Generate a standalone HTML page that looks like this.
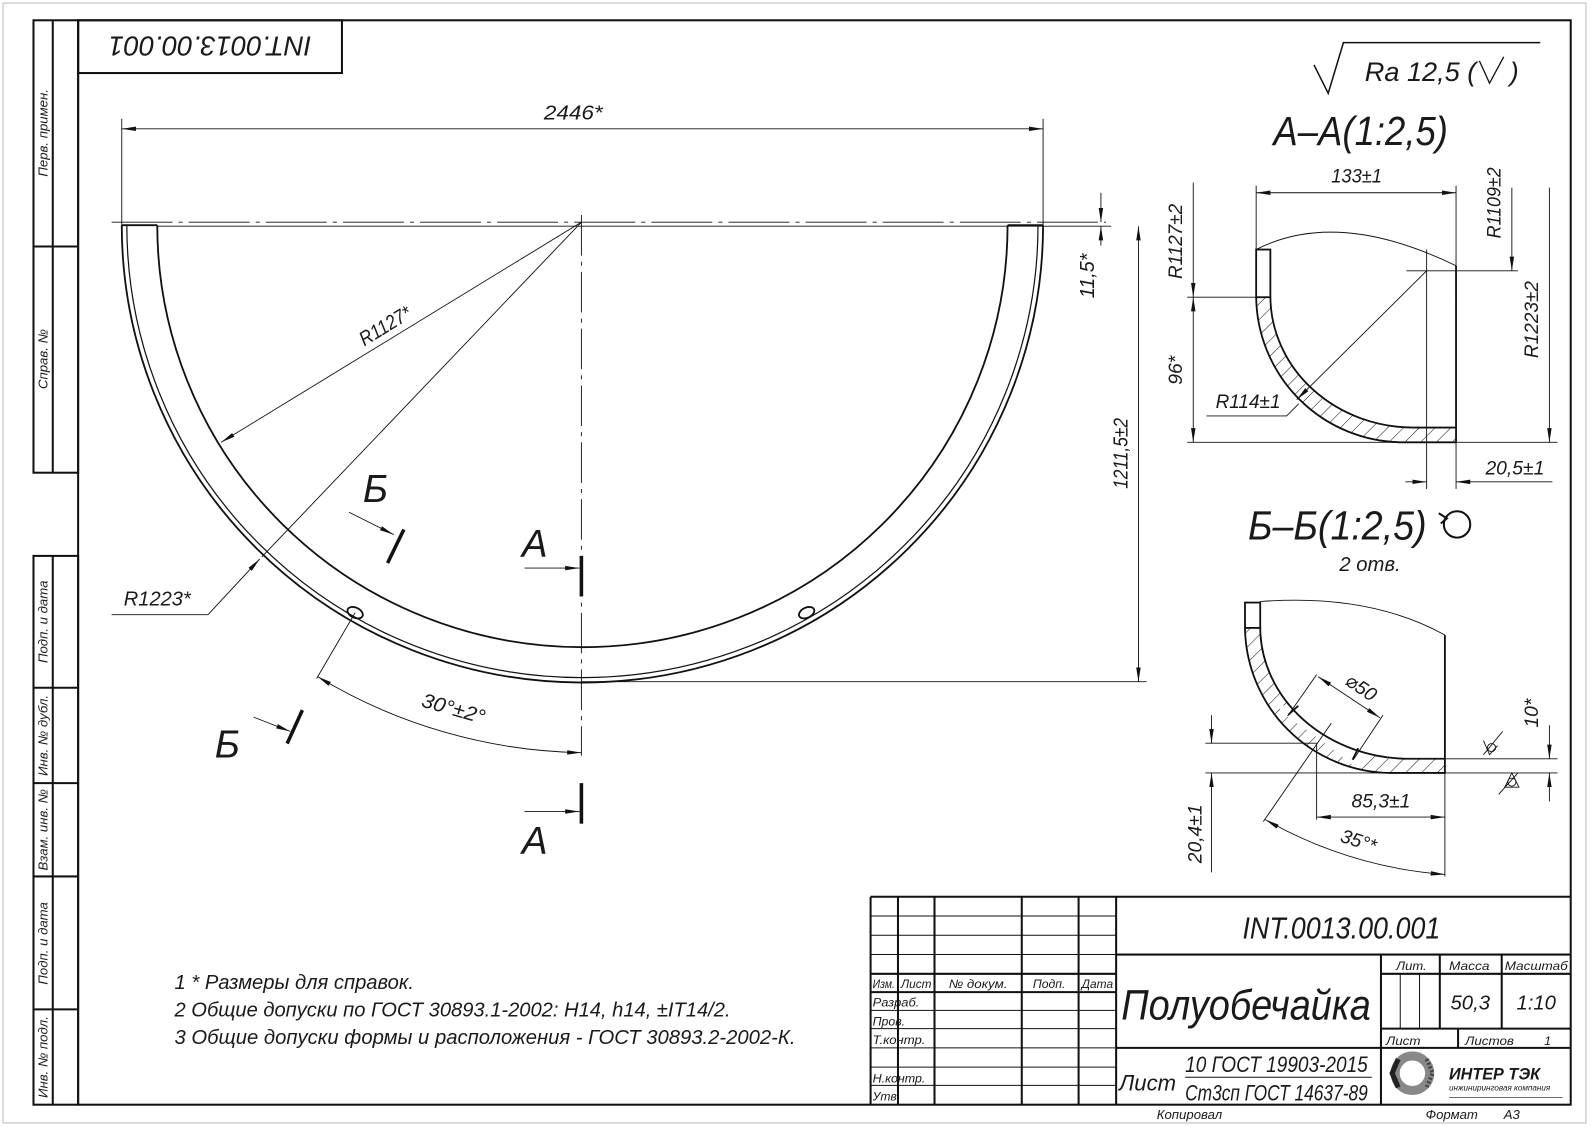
<!DOCTYPE html>
<html><head><meta charset="utf-8"><style>
html,body{margin:0;padding:0;background:#fff;}
svg{display:block;}
text{font-family:"Liberation Sans","DejaVu Sans",sans-serif;font-style:italic;fill:#1a1a1a;}
</style></head><body>
<svg width="1591" height="1127" viewBox="0 0 1568 1111" preserveAspectRatio="none" xmlns="http://www.w3.org/2000/svg">
<defs>
<marker id="a" viewBox="0 0 14 6" refX="14" refY="3" markerWidth="14" markerHeight="6" markerUnits="userSpaceOnUse" orient="auto-start-reverse"><path d="M0,0.8 L14,3 L0,5.2 Z" fill="#111"/></marker>
<pattern id="h" width="11" height="11" patternUnits="userSpaceOnUse" patternTransform="rotate(45)"><line x1="0" y1="0" x2="0" y2="11" stroke="#111" stroke-width="1"/></pattern>
</defs>
<rect width="1568" height="1111" fill="#fff"/>
<rect x="3" y="3" width="1560" height="1104" fill="none" stroke="#bbb" stroke-width="1"/>
<g stroke="#111" fill="none" stroke-width="2">
<rect x="77" y="20" width="1471" height="1069"/>
<rect x="33" y="20" width="44" height="446"/>
<line x1="52" y1="20" x2="52" y2="466"/><line x1="33" y1="243" x2="77" y2="243"/>
<rect x="33" y="548" width="44" height="541"/>
<line x1="52" y1="548" x2="52" y2="1089"/>
<line x1="33" y1="678" x2="77" y2="678"/><line x1="33" y1="772" x2="77" y2="772"/>
<line x1="33" y1="864" x2="77" y2="864"/><line x1="33" y1="995" x2="77" y2="995"/>
<rect x="77" y="20" width="260" height="52"/>
</g>
<g font-size="13">
<text transform="translate(47,131) rotate(-90)" text-anchor="middle">Перв. примен.</text>
<text transform="translate(47,354) rotate(-90)" text-anchor="middle">Справ. №</text>
<text transform="translate(47,613) rotate(-90)" text-anchor="middle">Подп. и дата</text>
<text transform="translate(47,725) rotate(-90)" text-anchor="middle">Инв. № дубл.</text>
<text transform="translate(47,818) rotate(-90)" text-anchor="middle">Взам. инв. №</text>
<text transform="translate(47,930) rotate(-90)" text-anchor="middle">Подп. и дата</text>
<text transform="translate(47,1042) rotate(-90)" text-anchor="middle">Инв. № подл.</text>
</g>
<text transform="translate(207,36) rotate(180)" text-anchor="middle" font-size="27" textLength="200" lengthAdjust="spacingAndGlyphs">INT.0013.00.001</text>

<g stroke="#111" fill="none" stroke-width="0.9">
<line x1="110" y1="219" x2="1090" y2="219" stroke-dasharray="60,6,4,6"/>
<line x1="573" y1="212" x2="573" y2="745" stroke-dasharray="40,6,4,6"/>
<line x1="155" y1="223" x2="1095" y2="223"/>
<line x1="120" y1="117" x2="120" y2="222"/><line x1="1028" y1="117" x2="1028" y2="222"/>
<line x1="120" y1="127" x2="1028" y2="127" marker-start="url(#a)" marker-end="url(#a)"/>
<line x1="573" y1="219" x2="218" y2="436" marker-end="url(#a)"/>
<line x1="573" y1="219" x2="258" y2="549"/>
<line x1="110" y1="606" x2="205" y2="606"/><line x1="205" y1="606" x2="256" y2="551" marker-end="url(#a)"/>
<line x1="573" y1="672" x2="1130" y2="672"/>
<line x1="1122" y1="223" x2="1122" y2="672" marker-start="url(#a)" marker-end="url(#a)"/>
<line x1="1085" y1="190" x2="1085" y2="219" marker-end="url(#a)"/>
<line x1="1085" y1="242" x2="1085" y2="223" marker-end="url(#a)"/>
<line x1="350" y1="604" x2="312" y2="669"/>
<path d="M313,667 A520,520 0 0 0 573,742" marker-start="url(#a)" marker-end="url(#a)"/>
<line x1="344" y1="505" x2="388" y2="527" marker-end="url(#a)"/>
<line x1="250" y1="707" x2="286" y2="721" marker-end="url(#a)"/>
<line x1="517" y1="560" x2="571" y2="560" marker-end="url(#a)"/>
<line x1="517" y1="800" x2="571" y2="800" marker-end="url(#a)"/>
</g>
<g stroke="#111" fill="none" stroke-width="1.8">
<path d="M120,222 L155,222"/><path d="M993,222 L1028,222"/>
<path d="M120,222 A453,450 0 0 0 1028,222"/>
<path d="M125,222 A448,445 0 0 0 1023,222" stroke-width="1.2"/>
<path d="M155,222 A419,416 0 0 0 993,222"/>
<ellipse cx="350" cy="604" rx="8" ry="5" transform="rotate(25 350 604)"/>
<ellipse cx="795" cy="604" rx="8" ry="5" transform="rotate(-25 795 604)"/>
</g>
<g stroke="#111" stroke-width="3.5">
<line x1="398" y1="522" x2="382" y2="555"/><line x1="298" y1="700" x2="283" y2="733"/>
<line x1="573" y1="548" x2="573" y2="588"/><line x1="573" y1="772" x2="573" y2="812"/>
</g>
<g font-size="20">
<text x="565" y="118" text-anchor="middle" textLength="58" lengthAdjust="spacingAndGlyphs">2446*</text>
<text transform="translate(383,327) rotate(-31.4)" text-anchor="middle" textLength="56" lengthAdjust="spacingAndGlyphs">R1127*</text>
<text x="155" y="597" text-anchor="middle" textLength="66" lengthAdjust="spacingAndGlyphs">R1223*</text>
<text transform="translate(445,705) rotate(16)" text-anchor="middle" textLength="64" lengthAdjust="spacingAndGlyphs">30°±2°</text>
<text transform="translate(1111,447) rotate(-90)" text-anchor="middle" textLength="70" lengthAdjust="spacingAndGlyphs">1211,5±2</text>
<text transform="translate(1078,272) rotate(-90)" text-anchor="middle" textLength="44" lengthAdjust="spacingAndGlyphs">11,5*</text>
</g>
<g font-size="38">
<text x="370" y="495" text-anchor="middle">Б</text>
<text x="224" y="747" text-anchor="middle">Б</text>
<text x="527" y="549" text-anchor="middle">A</text>
<text x="527" y="842" text-anchor="middle">A</text>
</g>

<path d="M1295,64 L1309,92 L1324,42 L1518,42" stroke="#111" fill="none" stroke-width="1.5"/>
<text x="1345" y="80" font-size="26" textLength="110" lengthAdjust="spacingAndGlyphs">Ra  12,5 (</text>
<path d="M1458,60 L1468,82 L1482,56" stroke="#111" fill="none" stroke-width="1.3"/>
<text x="1488" y="80" font-size="26">)</text>
<text x="1255" y="143" font-size="40" textLength="172" lengthAdjust="spacingAndGlyphs">A–A(1:2,5)</text>
<text x="1230" y="532" font-size="40" textLength="176" lengthAdjust="spacingAndGlyphs">Б–Б(1:2,5)</text>
<circle cx="1436" cy="517" r="13" fill="none" stroke="#111" stroke-width="2"/>
<path d="M1418,506 L1426,511 L1420,516" fill="none" stroke="#111" stroke-width="2"/>
<text x="1320" y="563" font-size="20">2 отв.</text>

<path d="M1238,293 A145,145 0 0 0 1383,436 L1435,436 L1435,421.5 L1393,421.5 A141,130 0 0 1 1252,293 Z" fill="url(#h)" stroke="none"/>
<g stroke="#111" fill="none" stroke-width="0.9">
<path d="M1238,246 Q1318,205 1435,262"/>
<line x1="1238" y1="183" x2="1238" y2="246"/><line x1="1435" y1="183" x2="1435" y2="262"/>
<line x1="1238" y1="190" x2="1435" y2="190" marker-start="url(#a)" marker-end="url(#a)"/>
<line x1="1406" y1="246" x2="1406" y2="482"/>
<line x1="1386" y1="267" x2="1496" y2="267"/>
<line x1="1490" y1="185" x2="1490" y2="267" marker-end="url(#a)"/>
<line x1="1406" y1="267" x2="1278" y2="394" marker-end="url(#a)"/>
<path d="M1189,410 L1268,410 L1280,398"/>
<line x1="1170" y1="293" x2="1238" y2="293"/>
<line x1="1176" y1="180" x2="1176" y2="293" marker-end="url(#a)"/>
<line x1="1176" y1="293" x2="1176" y2="436" marker-start="url(#a)" marker-end="url(#a)"/>
<line x1="1170" y1="436" x2="1535" y2="436"/>
<line x1="1527" y1="185" x2="1527" y2="436" marker-end="url(#a)"/>
<line x1="1435" y1="436" x2="1435" y2="482"/>
<line x1="1385" y1="475" x2="1406" y2="475" marker-end="url(#a)"/>
<line x1="1530" y1="475" x2="1435" y2="475" marker-end="url(#a)"/>
</g>
<g stroke="#111" fill="none" stroke-width="1.8">
<rect x="1238" y="246" width="14" height="47"/>
<path d="M1238,293 A145,145 0 0 0 1383,436 L1435,436 L1435,262"/>
<path d="M1252,293 A141,130 0 0 0 1393,421.5 L1435,421.5"/>
</g>
<g font-size="19">
<text x="1337" y="180" text-anchor="middle" textLength="50" lengthAdjust="spacingAndGlyphs">133±1</text>
<text transform="translate(1479,200) rotate(-90)" text-anchor="middle" textLength="70" lengthAdjust="spacingAndGlyphs">R1109±2</text>
<text transform="translate(1165,238) rotate(-90)" text-anchor="middle" textLength="74" lengthAdjust="spacingAndGlyphs">R1127±2</text>
<text transform="translate(1165,365) rotate(-90)" text-anchor="middle">96*</text>
<text transform="translate(1516,315) rotate(-90)" text-anchor="middle" textLength="76" lengthAdjust="spacingAndGlyphs">R1223±2</text>
<text x="1230" y="402" text-anchor="middle" textLength="64" lengthAdjust="spacingAndGlyphs">R114±1</text>
<text x="1493" y="468" text-anchor="middle" textLength="58" lengthAdjust="spacingAndGlyphs">20,5±1</text>
</g>

<path d="M1227,619 A145,145 0 0 0 1370,762 L1424,762 L1424,748 L1388,748 A147,130 0 0 1 1242,619 Z" fill="url(#h)" stroke="none"/>
<path d="M1268,706 L1280,695 L1339,737 L1333,750 Z" fill="#fff" stroke="none"/>
<path d="M1260,698 L1276,690 L1348,740 L1336,756 Z" fill="#fff" stroke="none"/>
<g stroke="#111" fill="none" stroke-width="0.9">
<path d="M1242,593 Q1350,585 1424,626"/>
<line x1="1297.6" y1="665" x2="1269" y2="706"/>
<line x1="1363" y1="705" x2="1333.7" y2="749"/>
<line x1="1299" y1="667" x2="1360" y2="707.6" marker-start="url(#a)" marker-end="url(#a)"/>
<line x1="1312" y1="713" x2="1245" y2="810"/>
<line x1="1188" y1="732.6" x2="1297.6" y2="732.6"/>
<line x1="1188" y1="762" x2="1535" y2="762"/>
<line x1="1424" y1="748" x2="1535" y2="748"/>
<line x1="1194" y1="705" x2="1194" y2="732.6" marker-end="url(#a)"/>
<line x1="1194" y1="860" x2="1194" y2="762" marker-end="url(#a)"/>
<line x1="1297.6" y1="732.6" x2="1297.6" y2="808"/>
<line x1="1424" y1="762" x2="1424" y2="864"/>
<line x1="1297.6" y1="805.5" x2="1424" y2="805.5" marker-start="url(#a)" marker-end="url(#a)"/>
<path d="M1247,808 Q1330,855 1424,862" marker-start="url(#a)" marker-end="url(#a)"/>
<line x1="1527" y1="715" x2="1527" y2="748" marker-end="url(#a)"/>
<line x1="1527" y1="790" x2="1527" y2="762" marker-end="url(#a)"/>
<line x1="1481" y1="721" x2="1462" y2="744"/>
<path d="M1462,730 L1468,744 L1476,735"/><circle cx="1470" cy="737" r="4"/>
<line x1="1477" y1="783" x2="1496" y2="762"/>
<path d="M1483,776 L1490,762 L1497,776 Z"/><circle cx="1490" cy="771" r="4"/>
</g>
<g stroke="#111" fill="none" stroke-width="1.8">
<rect x="1227" y="594" width="15" height="25"/>
<path d="M1227,619 A145,145 0 0 0 1370,762 L1424,762 L1424,626"/>
<path d="M1242,619 A147,130 0 0 0 1388,748 L1424,748"/>
<line x1="1269.7" y1="704.6" x2="1279.5" y2="695.8"/>
<line x1="1333" y1="749" x2="1338.6" y2="737.5"/>
</g>
<g font-size="19">
<text transform="translate(1338,683) rotate(34)" text-anchor="middle">⌀50</text>
<text x="1361" y="796" text-anchor="middle" textLength="58" lengthAdjust="spacingAndGlyphs">85,3±1</text>
<text transform="translate(1184,822) rotate(-90)" text-anchor="middle" textLength="58" lengthAdjust="spacingAndGlyphs">20,4±1</text>
<text transform="translate(1337,835) rotate(18)" text-anchor="middle">35°*</text>
<text transform="translate(1516,703) rotate(-90)" text-anchor="middle">10*</text>
</g>

<g font-size="20" fill="#222">
<text x="172" y="975" textLength="236" lengthAdjust="spacingAndGlyphs">1  * Размеры для справок.</text>
<text x="172" y="1002" textLength="548" lengthAdjust="spacingAndGlyphs">2 Общие допуски по ГОСТ 30893.1-2002: H14, h14, ±IT14/2.</text>
<text x="172" y="1029" textLength="612" lengthAdjust="spacingAndGlyphs">3 Общие допуски формы и расположения - ГОСТ 30893.2-2002-К.</text>
</g>

<g stroke="#111" fill="none" stroke-width="1">
<line x1="858" y1="903" x2="1100" y2="903"/><line x1="858" y1="922" x2="1100" y2="922"/>
<line x1="858" y1="941" x2="1100" y2="941"/>
<line x1="858" y1="996" x2="1100" y2="996"/><line x1="858" y1="1014" x2="1100" y2="1014"/>
<line x1="858" y1="1033" x2="1100" y2="1033"/><line x1="858" y1="1052" x2="1100" y2="1052"/>
<line x1="858" y1="1070" x2="1100" y2="1070"/>
<line x1="1380" y1="960" x2="1380" y2="1014"/><line x1="1399" y1="960" x2="1399" y2="1014"/>
</g>
<g stroke="#111" fill="none" stroke-width="2">
<line x1="858" y1="884" x2="1548" y2="884"/>
<line x1="858" y1="884" x2="858" y2="1089"/>
<line x1="885" y1="884" x2="885" y2="1089"/><line x1="921" y1="884" x2="921" y2="1089"/>
<line x1="1007" y1="884" x2="1007" y2="1089"/><line x1="1063" y1="884" x2="1063" y2="1089"/>
<line x1="1100" y1="884" x2="1100" y2="1089"/>
<line x1="858" y1="960" x2="1100" y2="960"/><line x1="858" y1="978" x2="1100" y2="978"/>
<line x1="1100" y1="941" x2="1548" y2="941"/>
<line x1="1361" y1="941" x2="1361" y2="1089"/>
<line x1="1100" y1="1033" x2="1548" y2="1033"/>
<line x1="1361" y1="960" x2="1548" y2="960"/><line x1="1361" y1="1014" x2="1548" y2="1014"/>
<line x1="1419" y1="941" x2="1419" y2="1014"/><line x1="1480" y1="941" x2="1480" y2="1014"/>
<line x1="1437" y1="1014" x2="1437" y2="1033"/>
</g>
<line x1="1168" y1="1062" x2="1352" y2="1062" stroke="#111" stroke-width="1"/>
<g font-size="12">
<text x="860" y="974" textLength="22" lengthAdjust="spacingAndGlyphs">Изм.</text><text x="888" y="974" textLength="30" lengthAdjust="spacingAndGlyphs">Лист</text>
<text x="935" y="974" textLength="58" lengthAdjust="spacingAndGlyphs">№ докум.</text><text x="1018" y="974" textLength="32" lengthAdjust="spacingAndGlyphs">Подп.</text><text x="1066" y="974" textLength="31" lengthAdjust="spacingAndGlyphs">Дата</text>
<text x="860" y="992" textLength="46" lengthAdjust="spacingAndGlyphs">Разраб.</text><text x="860" y="1011" textLength="32" lengthAdjust="spacingAndGlyphs">Пров.</text><text x="860" y="1029" textLength="52" lengthAdjust="spacingAndGlyphs">Т.контр.</text>
<text x="860" y="1067" textLength="52" lengthAdjust="spacingAndGlyphs">Н.контр.</text><text x="860" y="1085" textLength="27" lengthAdjust="spacingAndGlyphs">Утв.</text>
<text x="1376" y="956" textLength="30" lengthAdjust="spacingAndGlyphs">Лит.</text><text x="1428" y="956" textLength="40" lengthAdjust="spacingAndGlyphs">Масса</text><text x="1483" y="956" textLength="62" lengthAdjust="spacingAndGlyphs">Масштаб</text>
<text x="1366" y="1030" textLength="34" lengthAdjust="spacingAndGlyphs">Лист</text><text x="1444" y="1030" textLength="48" lengthAdjust="spacingAndGlyphs">Листов</text><text x="1522" y="1030">1</text>
</g>
<text x="1322" y="925" font-size="30" text-anchor="middle" textLength="195" lengthAdjust="spacingAndGlyphs">INT.0013.00.001</text>
<text x="1105" y="1005" font-size="42" textLength="246" lengthAdjust="spacingAndGlyphs">Полуобечайка</text>
<text x="1449" y="995" font-size="20" text-anchor="middle">50,3</text>
<text x="1514" y="995" font-size="20" text-anchor="middle">1:10</text>
<text x="1103" y="1075" font-size="22" textLength="56" lengthAdjust="spacingAndGlyphs">Лист</text>
<text x="1348" y="1057" font-size="22" text-anchor="end" textLength="180" lengthAdjust="spacingAndGlyphs">10 ГОСТ 19903-2015</text>
<text x="1348" y="1085" font-size="22" text-anchor="end" textLength="180" lengthAdjust="spacingAndGlyphs">Ст3сп ГОСТ 14637-89</text>
<circle cx="1392" cy="1058" r="17" fill="none" stroke="#888" stroke-width="9"/>
<path d="M1378,1044 L1372,1058 L1378,1072" stroke="#222" stroke-width="5" fill="none"/>
<path d="M1406,1044 L1412,1058 L1406,1072" stroke="#444" stroke-width="4" fill="none" stroke-dasharray="2,2"/>
<text x="1428" y="1064" font-size="16" font-weight="bold" font-style="normal" fill="#222">ИНТЕР ТЭК</text>
<text x="1428" y="1075" font-size="8" font-style="normal" fill="#777">инжиниринговая компания</text>
<line x1="1428" y1="1082" x2="1540" y2="1082" stroke="#555" stroke-width="0.8"/>
<text x="1140" y="1103" font-size="13">Копировал</text>
<text x="1405" y="1103" font-size="13">Формат</text>
<text x="1482" y="1103" font-size="13">A3</text>
</svg>
</body></html>
